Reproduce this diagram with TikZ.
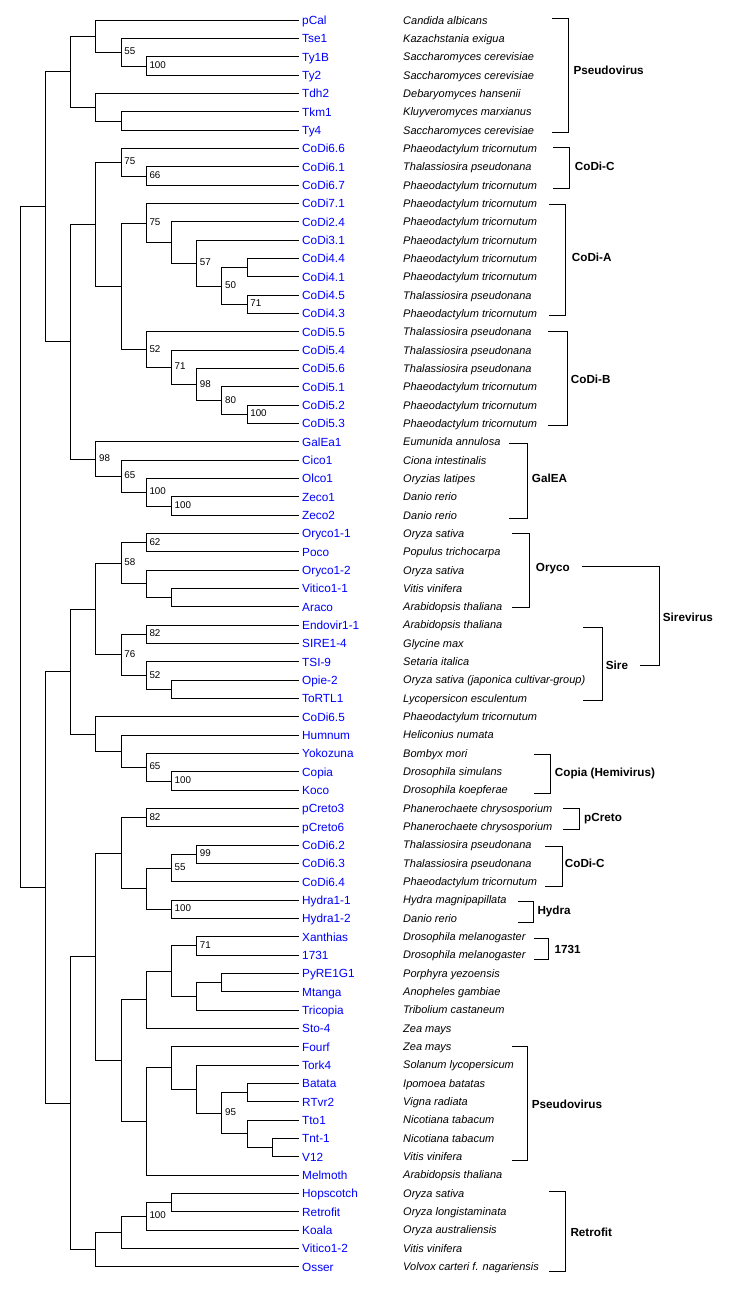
\documentclass[tikz,border=0pt]{standalone}
\usepackage{fontspec}
\setmainfont{Liberation Sans}
\usetikzlibrary{calc}
\tikzset{
  branch/.style={draw=black,line width=1pt},
  bracket/.style={draw=black,line width=1pt},
  leaf/.style={anchor=base west,inner sep=0pt,text=blue,font=\fontsize{11.8}{13}\selectfont},
  species/.style={anchor=base west,inner sep=0pt,text=black,font=\fontsize{11}{13}\selectfont\itshape},
  supp/.style={anchor=base west,inner sep=0pt,xshift=3pt,yshift=-2.5pt,font=\fontsize{9.8}{11}\selectfont},
  grp/.style={anchor=base west,inner sep=0pt,font=\fontsize{11.7}{13}\selectfont\bfseries}
}
\newcommand{\tnode}[5]{%
  \path let \p1=(#3), \p2=(#4) in coordinate (#1) at ({20.3pt+25.2pt*#2}, {0.5*(\y1+\y2)});
  \draw[branch] (#1) |- (#3);
  \draw[branch] (#1) |- (#4);
  \if\relax\detokenize{#5}\relax\else\node[supp] (#1lab) at (#1) {#5};\fi
}
\newcommand{\brk}[8]{%
  \coordinate (#1a) at (#2,#4); \coordinate (#1b) at (#3,#4);
  \coordinate (#1c) at (#3,#5); \coordinate (#1d) at (#2,#5);
  \draw[bracket] (#1a) -- (#1b) -- (#1c) -- (#1d);
  \node[grp] (#1) at (#6,{#7+4.3}) {#8};
}
\begin{document}
\begin{tikzpicture}[x=1pt,y=-1pt]
\useasboundingbox (0,0) rectangle (747,1295);
\fill[white] (0,0) rectangle (747,1295);
\foreach \nm/\sp [count=\i from 0] in {
{pCal}/{Candida albicans},
{Tse1}/{Kazachstania exigua},
{Ty1B}/{Saccharomyces cerevisiae},
{Ty2}/{Saccharomyces cerevisiae},
{Tdh2}/{Debaryomyces hansenii},
{Tkm1}/{Kluyveromyces marxianus},
{Ty4}/{Saccharomyces cerevisiae},
{CoDi6.6}/{Phaeodactylum tricornutum},
{CoDi6.1}/{Thalassiosira pseudonana},
{CoDi6.7}/{Phaeodactylum tricornutum},
{CoDi7.1}/{Phaeodactylum tricornutum},
{CoDi2.4}/{Phaeodactylum tricornutum},
{CoDi3.1}/{Phaeodactylum tricornutum},
{CoDi4.4}/{Phaeodactylum tricornutum},
{CoDi4.1}/{Phaeodactylum tricornutum},
{CoDi4.5}/{Thalassiosira pseudonana},
{CoDi4.3}/{Phaeodactylum tricornutum},
{CoDi5.5}/{Thalassiosira pseudonana},
{CoDi5.4}/{Thalassiosira pseudonana},
{CoDi5.6}/{Thalassiosira pseudonana},
{CoDi5.1}/{Phaeodactylum tricornutum},
{CoDi5.2}/{Phaeodactylum tricornutum},
{CoDi5.3}/{Phaeodactylum tricornutum},
{GalEa1}/{Eumunida annulosa},
{Cico1}/{Ciona intestinalis},
{Olco1}/{Oryzias latipes},
{Zeco1}/{Danio rerio},
{Zeco2}/{Danio rerio},
{Oryco1-1}/{Oryza sativa},
{Poco}/{Populus trichocarpa},
{Oryco1-2}/{Oryza sativa},
{Vitico1-1}/{Vitis vinifera},
{Araco}/{Arabidopsis thaliana},
{Endovir1-1}/{Arabidopsis thaliana},
{SIRE1-4}/{Glycine max},
{TSI-9}/{Setaria italica},
{Opie-2}/{Oryza sativa (japonica cultivar-group)},
{ToRTL1}/{Lycopersicon esculentum},
{CoDi6.5}/{Phaeodactylum tricornutum},
{Humnum}/{Heliconius numata},
{Yokozuna}/{Bombyx mori},
{Copia}/{Drosophila simulans},
{Koco}/{Drosophila koepferae},
{pCreto3}/{Phanerochaete chrysosporium},
{pCreto6}/{Phanerochaete chrysosporium},
{CoDi6.2}/{Thalassiosira pseudonana},
{CoDi6.3}/{Thalassiosira pseudonana},
{CoDi6.4}/{Phaeodactylum tricornutum},
{Hydra1-1}/{Hydra magnipapillata},
{Hydra1-2}/{Danio rerio},
{Xanthias}/{Drosophila melanogaster},
{1731}/{Drosophila melanogaster},
{PyRE1G1}/{Porphyra yezoensis},
{Mtanga}/{Anopheles gambiae},
{Tricopia}/{Tribolium castaneum},
{Sto-4}/{Zea mays},
{Fourf}/{Zea mays},
{Tork4}/{Solanum lycopersicum},
{Batata}/{Ipomoea batatas},
{RTvr2}/{Vigna radiata},
{Tto1}/{Nicotiana tabacum},
{Tnt-1}/{Nicotiana tabacum},
{V12}/{Vitis vinifera},
{Melmoth}/{Arabidopsis thaliana},
{Hopscotch}/{Oryza sativa},
{Retrofit}/{Oryza longistaminata},
{Koala}/{Oryza australiensis},
{Vitico1-2}/{Vitis vinifera},
{Osser}/{Volvox carteri f. nagariensis}} {
  \coordinate (L\i) at (299,{20.3+18.33*\i});
  \node[leaf] (t\i) at (302,{20.3+18.33*\i+4.3}) {\nm};
  \node[species] (s\i) at (403,{20.3+18.33*\i+3.8}) {\sp};
}
% top clade
\tnode{n1}{5}{L2}{L3}{100}
\tnode{n2}{4}{L1}{n1}{55}
\tnode{n3}{3}{L0}{n2}{}
\tnode{n4}{4}{L5}{L6}{}
\tnode{n5}{3}{L4}{n4}{}
\tnode{n6}{2}{n3}{n5}{}
\tnode{n7}{5}{L8}{L9}{66}
\tnode{n8}{4}{L7}{n7}{75}
\tnode{n9}{9}{L13}{L14}{}
\tnode{n10}{9}{L15}{L16}{71}
\tnode{n11}{8}{n9}{n10}{50}
\tnode{n12}{7}{L12}{n11}{57}
\tnode{n13}{6}{L11}{n12}{}
\tnode{n14}{5}{L10}{n13}{75}
\tnode{n15}{9}{L21}{L22}{100}
\tnode{n16}{8}{L20}{n15}{80}
\tnode{n17}{7}{L19}{n16}{98}
\tnode{n18}{6}{L18}{n17}{71}
\tnode{n19}{5}{L17}{n18}{52}
\tnode{n20}{4}{n14}{n19}{}
\tnode{n21}{3}{n8}{n20}{}
\tnode{n22}{6}{L26}{L27}{100}
\tnode{n23}{5}{L25}{n22}{100}
\tnode{n24}{4}{L24}{n23}{65}
\tnode{n25}{3}{L23}{n24}{98}
\tnode{n26}{2}{n21}{n25}{}
\tnode{n27}{1}{n6}{n26}{}
% Sirevirus
\tnode{n28}{5}{L28}{L29}{62}
\tnode{n29}{6}{L31}{L32}{}
\tnode{n30}{5}{L30}{n29}{}
\tnode{n31}{4}{n28}{n30}{58}
\tnode{n32}{5}{L33}{L34}{82}
\tnode{n33}{6}{L36}{L37}{}
\tnode{n34}{5}{L35}{n33}{52}
\tnode{n35}{4}{n32}{n34}{76}
\tnode{n36}{3}{n31}{n35}{}
\tnode{n37}{6}{L41}{L42}{100}
\tnode{n38}{5}{L40}{n37}{65}
\tnode{n39}{4}{L39}{n38}{}
\tnode{n40}{3}{L38}{n39}{}
\tnode{n41}{2}{n36}{n40}{}
% lower part
\tnode{n42}{5}{L43}{L44}{82}
\tnode{n43}{7}{L45}{L46}{99}
\tnode{n44}{6}{n43}{L47}{55}
\tnode{n45}{6}{L48}{L49}{100}
\tnode{n46}{5}{n44}{n45}{}
\tnode{n47}{4}{n42}{n46}{}
\tnode{n48}{7}{L50}{L51}{71}
\tnode{n49}{8}{L52}{L53}{}
\tnode{n50}{7}{n49}{L54}{}
\tnode{n51}{6}{n48}{n50}{}
\tnode{n52}{5}{n51}{L55}{}
\tnode{n53}{9}{L58}{L59}{}
\tnode{n54}{10}{L61}{L62}{}
\tnode{n55}{9}{L60}{n54}{}
\tnode{n56}{8}{n53}{n55}{95}
\tnode{n57}{7}{L57}{n56}{}
\tnode{n58}{6}{L56}{n57}{}
\tnode{n59}{5}{n58}{L63}{}
\tnode{n60}{4}{n52}{n59}{}
\tnode{n61}{3}{n47}{n60}{}
\tnode{n62}{6}{L64}{L65}{}
\tnode{n63}{5}{n62}{L66}{100}
\tnode{n64}{4}{n63}{L67}{}
\tnode{n65}{3}{n64}{L68}{}
\tnode{n66}{2}{n61}{n65}{}
\tnode{n67}{1}{n41}{n66}{}
\tnode{root}{0}{n27}{n67}{}
% brackets
\brk{gPseudoA}{552}{568.7}{18.7}{132.3}{573.3}{70.7}{Pseudovirus}
\brk{gCoDiCA}{553.3}{569.3}{147.3}{188.3}{574.7}{165.7}{CoDi-C}
\brk{gCoDiA}{549.3}{565.3}{204.3}{315}{571.7}{256.7}{CoDi-A}
\brk{gCoDiB}{548}{567.7}{331.7}{425.3}{570.7}{379.3}{CoDi-B}
\brk{gGalEA}{509.3}{527.3}{443.7}{518.3}{531.7}{477.7}{GalEA}
\brk{gOryco}{512.3}{529}{533.3}{607.3}{535.7}{566.7}{Oryco}
\brk{gSire}{583.3}{602.3}{627.3}{700}{605.7}{664.7}{Sire}
\brk{gCopia}{534.3}{550.7}{754.3}{793.3}{554.7}{771.7}{Copia (Hemivirus)}
\brk{gpCreto}{563.3}{579.3}{808.3}{829}{584}{816.7}{pCreto}
\brk{gCoDiCB}{545.3}{562.7}{846}{886}{564.7}{863.3}{CoDi-C}
\brk{gHydra}{518}{533.7}{901}{922}{537.3}{910}{Hydra}
\brk{g1731}{534.3}{548.3}{938.3}{959}{554.3}{948.7}{1731}
\brk{gPseudoB}{512.3}{527.3}{1046.7}{1160}{531.7}{1104.3}{Pseudovirus}
\brk{gRetrofit}{549.3}{565}{1191}{1271.7}{570.3}{1232.3}{Retrofit}
% Sirevirus super-bracket
\coordinate (sva) at (581.7,566.3);
\coordinate (svb) at (659.3,566.3);
\coordinate (svc) at (659.3,665.7);
\coordinate (svd) at (640,665.7);
\draw[bracket] (sva) -- (svb) -- (svc) -- (svd);
\node[grp] (gSirevirus) at (662.7,{616.7+4.3}) {Sirevirus};
\end{tikzpicture}
\end{document}
